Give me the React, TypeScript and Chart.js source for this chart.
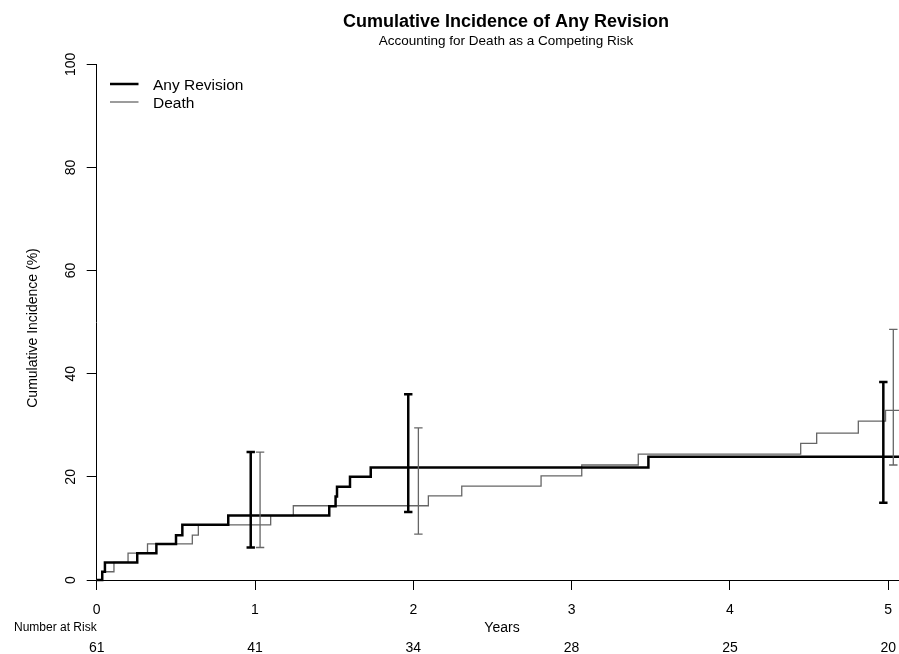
import React, { useEffect, useRef } from "react";
import { Chart, registerables } from "chart.js";

Chart.register(...registerables);

// ---- Text ----
const titleText = "Cumulative Incidence of Any Revision";
const subtitleText = "Accounting for Death as a Competing Risk";
const yAxisTitle = "Cumulative Incidence (%)";
const xAxisTitle = "Years";
const riskTitle = "Number at Risk";
const legendLabels = ["Any Revision", "Death"];

// ---- Axes ----
const xTicks = [0, 1, 2, 3, 4, 5];
const yTicks = [0, 20, 40, 60, 80, 100];
const X_MIN = 0;
const X_MAX = 5.068;
const Y_MIN = 0;
const Y_MAX = 100;

// ---- Number at risk ----
const numberAtRisk = [61, 41, 34, 28, 25, 20];

// ---- Any Revision (step curve, % ) ----
const revisionTimes = [0, 0.035, 0.052, 0.256, 0.377, 0.501, 0.541, 0.831, 1.469, 1.509, 1.518, 1.6, 1.731, 3.485];
const revisionValues = [0, 1.6, 3.4, 5.2, 7.0, 8.7, 10.7, 12.5, 14.3, 16.2, 18.1, 20.0, 21.8, 23.9];

// ---- Death (step curve, %) ----
const deathTimes = [0, 0.035, 0.109, 0.198, 0.321, 0.604, 0.642, 1.099, 1.242, 2.095, 2.306, 2.807, 3.064, 3.421, 4.447, 4.548, 4.811, 4.983];
const deathValues = [0, 1.6, 3.4, 5.2, 7.0, 8.7, 10.7, 12.5, 14.4, 16.3, 18.2, 20.2, 22.3, 24.4, 26.5, 28.5, 30.8, 32.9];

// ---- Confidence intervals ----
const revisionCiTimes = [0.973, 1.968, 4.969];
const revisionCiLower = [6.3, 13.2, 15.0];
const revisionCiUpper = [24.8, 36.0, 38.4];
const deathCiTimes = [1.032, 2.032, 5.032];
const deathCiLower = [6.3, 8.9, 22.3];
const deathCiUpper = [24.8, 29.5, 48.6];

const FONT = '"Liberation Sans", Arial, Helvetica, sans-serif';
const GRAY = "#666666";

function stepPoints(times: number[], values: number[]) {
  const pts = times.map((t, i) => ({ x: t, y: values[i] }));
  pts.push({ x: X_MAX, y: values[values.length - 1] });
  return pts;
}

const overlayPlugin = {
  id: "overlay",
  afterDatasetsDraw(chart: any) {
    const { ctx } = chart;
    const xs = chart.scales.x;
    const ys = chart.scales.y;
    const drawBars = (times: number[], lo: number[], hi: number[], color: string, width: number) => {
      ctx.save();
      ctx.strokeStyle = color;
      ctx.lineWidth = width;
      ctx.lineCap = "butt";
      times.forEach((t, i) => {
        const px = xs.getPixelForValue(t);
        const y1 = ys.getPixelForValue(lo[i]);
        const y2 = ys.getPixelForValue(hi[i]);
        ctx.beginPath();
        ctx.moveTo(px, y1);
        ctx.lineTo(px, y2);
        ctx.moveTo(px - 4.2, y1);
        ctx.lineTo(px + 4.2, y1);
        ctx.moveTo(px - 4.2, y2);
        ctx.lineTo(px + 4.2, y2);
        ctx.stroke();
      });
      ctx.restore();
    };
    drawBars(deathCiTimes, deathCiLower, deathCiUpper, GRAY, 1.3);
    drawBars(revisionCiTimes, revisionCiLower, revisionCiUpper, "#000", 2.5);
  },
  afterDraw(chart: any) {
    const { ctx } = chart;
    const xs = chart.scales.x;
    const ys = chart.scales.y;
    ctx.save();
    ctx.fillStyle = "#000";

    // Titles
    ctx.textAlign = "center";
    ctx.textBaseline = "alphabetic";
    ctx.font = `bold 18px ${FONT}`;
    ctx.fillText(titleText, 506, 27);
    ctx.font = `13.5px ${FONT}`;
    ctx.fillText(subtitleText, 506, 45);

    // Y tick labels (rotated)
    ctx.font = `14px ${FONT}`;
    yTicks.forEach((v) => {
      const py = ys.getPixelForValue(v);
      ctx.save();
      ctx.translate(74.5, py);
      ctx.rotate(-Math.PI / 2);
      ctx.textAlign = "center";
      ctx.fillText(String(v), 0, 0);
      ctx.restore();
    });

    // Y axis title
    ctx.save();
    ctx.translate(37, 328);
    ctx.rotate(-Math.PI / 2);
    ctx.textAlign = "center";
    ctx.font = `14px ${FONT}`;
    ctx.fillText(yAxisTitle, 0, 0);
    ctx.restore();

    // X tick labels
    ctx.font = `14px ${FONT}`;
    ctx.textAlign = "center";
    xTicks.forEach((v) => {
      ctx.fillText(String(v), xs.getPixelForValue(v), 614);
    });

    // X axis title
    ctx.fillText(xAxisTitle, 502, 632);

    // Number at risk
    ctx.font = `12px ${FONT}`;
    ctx.textAlign = "right";
    ctx.fillText(riskTitle, xs.getPixelForValue(0), 631);
    ctx.font = `14px ${FONT}`;
    ctx.textAlign = "center";
    xTicks.forEach((v, i) => {
      ctx.fillText(String(numberAtRisk[i]), xs.getPixelForValue(v), 652);
    });

    // Legend
    ctx.lineCap = "butt";
    ctx.strokeStyle = "#000";
    ctx.lineWidth = 2.5;
    ctx.beginPath();
    ctx.moveTo(110, 84);
    ctx.lineTo(138.5, 84);
    ctx.stroke();
    ctx.strokeStyle = GRAY;
    ctx.lineWidth = 1.3;
    ctx.beginPath();
    ctx.moveTo(110, 102);
    ctx.lineTo(138.5, 102);
    ctx.stroke();
    ctx.font = `15.5px ${FONT}`;
    ctx.textAlign = "left";
    ctx.fillStyle = "#000";
    ctx.fillText(legendLabels[0], 153, 89.5);
    ctx.fillText(legendLabels[1], 153, 107.5);

    ctx.restore();
  },
};

export default function App() {
  const canvasRef = useRef<HTMLCanvasElement | null>(null);

  useEffect(() => {
    const canvas = canvasRef.current;
    if (!canvas) return;
    const chart = new Chart(canvas, {
      type: "scatter",
      data: {
        datasets: [
          {
            label: legendLabels[0],
            data: stepPoints(revisionTimes, revisionValues),
            showLine: true,
            stepped: "before",
            borderColor: "#000",
            borderWidth: 2.5,
            pointRadius: 0,
            pointHoverRadius: 0,
            fill: false,
            clip: 4,
          },
          {
            label: legendLabels[1],
            data: stepPoints(deathTimes, deathValues),
            showLine: true,
            stepped: "before",
            borderColor: GRAY,
            borderWidth: 1.3,
            pointRadius: 0,
            pointHoverRadius: 0,
            fill: false,
            clip: 4,
          },
        ],
      },
      options: {
        animation: false,
        responsive: false,
        devicePixelRatio: 1,
        events: [],
        layout: { padding: { left: 0, right: 0, top: 64.3, bottom: 0 } },
        plugins: {
          legend: { display: false },
          tooltip: { enabled: false },
          title: { display: false },
        },
        scales: {
          x: {
            type: "linear",
            min: X_MIN,
            max: X_MAX,
            afterBuildTicks: (scale: any) => {
              scale.ticks = xTicks.map((v) => ({ value: v }));
            },
            afterFit: (scale: any) => {
              scale.height = 74;
            },
            ticks: { display: false },
            grid: {
              display: true,
              drawOnChartArea: false,
              drawTicks: true,
              tickLength: 10,
              color: "#000",
              lineWidth: 1,
            },
            border: { display: true, color: "#000", width: 1 },
          },
          y: {
            type: "linear",
            min: Y_MIN,
            max: Y_MAX,
            afterBuildTicks: (scale: any) => {
              scale.ticks = yTicks.map((v) => ({ value: v }));
            },
            afterFit: (scale: any) => {
              scale.width = 96.7;
            },
            ticks: { display: false },
            grid: {
              display: true,
              drawOnChartArea: false,
              drawTicks: true,
              tickLength: 10,
              color: "#000",
              lineWidth: 1,
            },
            border: { display: true, color: "#000", width: 1 },
          },
        },
      },
      plugins: [overlayPlugin],
    } as any);
    return () => chart.destroy();
  }, []);

  return (
    <div style={{ position: "fixed", left: 0, top: 0, width: 899, height: 654, background: "#fff" }}>
      <canvas ref={canvasRef} width={899} height={654} style={{ width: 899, height: 654, display: "block" }} />
    </div>
  );
}
